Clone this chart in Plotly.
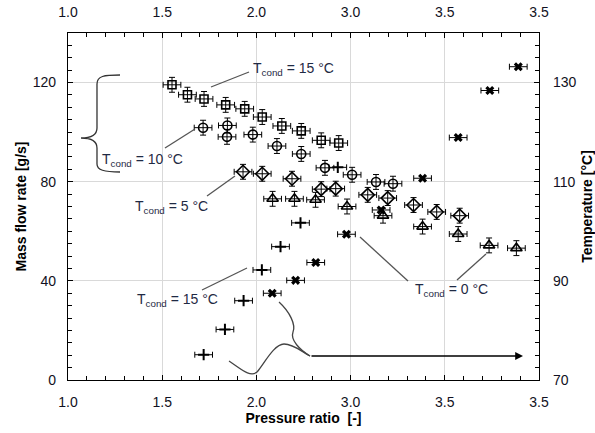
import plotly.graph_objects as go

# ---------------- data ----------------
tick_vals = [1.0, 1.5, 2.0, 2.5, 3.0, 3.5]
tick_text = ["1.0", "1.5", "2.0", "3.0", "3.5", "3.5"]

# Mass flow rate [g/s] (left axis)
pr_15 = [1.552, 1.634, 1.722, 1.837, 1.938, 2.031, 2.135, 2.238, 2.344, 2.437]
mf_15 = [119.1, 115.1, 113.4, 111.0, 109.4, 106.1, 102.5, 100.5, 96.7, 95.6]

pr_10 = [1.717, 1.846, 1.844, 1.981, 2.109, 2.238, 2.364, 2.508, 2.635, 2.725]
mf_10 = [101.8, 102.7, 98.1, 99.0, 94.4, 91.2, 85.6, 82.8, 79.9, 79.2]

pr_5 = [1.929, 2.031, 2.189, 2.344, 2.421, 2.591, 2.697, 2.834, 2.957, 3.079]
mf_5 = [84.0, 83.2, 81.2, 77.0, 77.2, 74.7, 73.4, 70.6, 67.8, 66.3]

pr_0 = [2.086, 2.202, 2.314, 2.481, 2.672, 2.882, 3.071, 3.235, 3.380]
mf_0 = [73.1, 73.1, 72.7, 70.0, 66.3, 61.9, 58.9, 54.3, 53.2]

# Temperature [°C] (right axis)
pr_t15 = [1.720, 1.833, 1.932, 2.029, 2.128, 2.234, 2.432]
t_15 = [75.1, 80.2, 86.0, 92.2, 96.9, 101.7, 112.9]

pr_t0 = [2.084, 2.208, 2.315, 2.478, 2.662, 2.882, 3.071, 3.239, 3.390]
t_0 = [87.5, 90.1, 93.7, 99.4, 104.3, 110.7, 118.9, 128.4, 133.2]

pr_err = 0.047
mf_err = 3.0

# ---------------- figure ----------------
fig = go.Figure()

def mf_trace(x, y, symbol, size):
    return go.Scatter(
        x=x, y=y, mode="markers", xaxis="x", yaxis="y", showlegend=False,
        marker=dict(symbol=symbol, size=size, color="black",
                    line=dict(color="black", width=1.6)),
        error_x=dict(type="constant", value=pr_err, color="black", thickness=1, width=3),
        error_y=dict(type="constant", value=mf_err, color="black", thickness=1, width=3),
    )

fig.add_trace(mf_trace(pr_15, mf_15, "square-open", 8))
fig.add_trace(mf_trace(pr_10, mf_10, "circle-open", 9))
fig.add_trace(mf_trace(pr_5, mf_5, "diamond-open", 10))
fig.add_trace(mf_trace(pr_0, mf_0, "triangle-up-open", 10))

fig.add_trace(go.Scatter(
    x=pr_t15, y=t_15, mode="markers", xaxis="x", yaxis="y2", showlegend=False,
    marker=dict(symbol="cross-thin", size=8, color="black", line=dict(color="black", width=2)),
    error_x=dict(type="constant", value=pr_err, color="black", thickness=1, width=3),
))
fig.add_trace(go.Scatter(
    x=pr_t0, y=t_0, mode="markers", xaxis="x", yaxis="y2", showlegend=False,
    marker=dict(symbol="x", size=8, color="black", line=dict(color="black", width=0)),
    error_x=dict(type="constant", value=pr_err, color="black", thickness=1, width=3),
))

# dummy trace for the top axis
fig.add_trace(go.Scatter(x=[1.0, 3.5], y=[None, None], xaxis="x2", yaxis="y",
                         mode="markers", showlegend=False, hoverinfo="skip"))

# ---------------- annotation helpers (pixel -> data) ----------------
L, R, T, B = 68, 539, 33, 380
def dx(px):
    return 1.0 + (px - L) / (R - L) * 2.5
def dy(py):
    return (B - py) / (B - T) * 140.0

def path(points_cmds):
    s = ""
    for cmd, pts in points_cmds:
        s += cmd + " " + " ".join(f"{dx(a):.4f},{dy(b):.4f}" for a, b in pts) + " "
    return s.strip()

line_col = "#555555"
shapes = []
# leader lines
for (x0, y0, x1, y1) in [(211, 87, 249, 72), (165, 148, 195, 129), (207, 196, 235, 176),
                         (202, 290, 247, 268), (360, 237, 408, 281), (457, 280, 486, 254)]:
    shapes.append(dict(type="line", xref="x", yref="y", x0=dx(x0), y0=dy(y0), x1=dx(x1), y1=dy(y1),
                       line=dict(color=line_col, width=1.3)))

# curly brace
brace = path([("M", [(120, 75)]), ("C", [(104, 75), (97, 76), (97, 84)]),
              ("L", [(97, 128)]), ("C", [(97, 134), (92, 138), (81, 138)]),
              ("C", [(92, 138), (97, 142), (97, 148)]),
              ("L", [(97, 164)]), ("C", [(97, 170), (104, 172), (120, 172)])])
shapes.append(dict(type="path", xref="x", yref="y", path=brace, line=dict(color="#333333", width=1.3)))

# bottom curves
c1 = path([("M", [(229, 361)]), ("C", [(240, 368), (250, 378), (257, 372)]),
           ("C", [(264, 364), (274, 344), (284, 344)]),
           ("C", [(294, 344), (302, 352), (310, 356)])])
c2 = path([("M", [(279, 302)]), ("C", [(290, 312), (296, 325), (293, 332)]),
           ("C", [(290, 340), (300, 350), (310, 356)])])
for c in (c1, c2):
    shapes.append(dict(type="path", xref="x", yref="y", path=c, line=dict(color="#444444", width=1.3)))

text_col = "#1f2a44"
font_a = dict(family="Liberation Sans, Arial", size=14, color=text_col)
annotations = [
    dict(x=dx(251), y=dy(69), text="T<sub>cond</sub> = 15 °C", xanchor="left", yanchor="middle"),
    dict(x=dx(100), y=dy(160), text="T<sub>cond</sub> = 10 °C", xanchor="left", yanchor="middle"),
    dict(x=dx(133), y=dy(207), text="T<sub>cond</sub> = 5 °C", xanchor="left", yanchor="middle"),
    dict(x=dx(135), y=dy(300), text="T<sub>cond</sub> = 15 °C", xanchor="left", yanchor="middle"),
    dict(x=dx(413), y=dy(290), text="T<sub>cond</sub> = 0 °C", xanchor="left", yanchor="middle"),
]
for a in annotations:
    a.update(xref="x", yref="y", showarrow=False, font=font_a)
# arrow
annotations.append(dict(x=dx(523), y=dy(356), ax=dx(310), ay=dy(356), xref="x", yref="y",
                        axref="x", ayref="y", text="", showarrow=True, arrowhead=2,
                        arrowsize=1.2, arrowwidth=1.3, arrowcolor="black"))

tickfont = dict(family="Liberation Sans, Arial", size=14, color="#111122")
titlefont = dict(family="Liberation Sans, Arial", size=14, color="black")

common_x = dict(range=[1.0, 3.5], tickvals=tick_vals, ticktext=tick_text, ticks="inside",
                ticklen=5, tickcolor="black", tickwidth=1, tickfont=tickfont,
                ticklabelstandoff=9, automargin=False,
                minor=dict(dtick=0.1, ticks="inside", ticklen=4, tickcolor="black", showgrid=False),
                zeroline=False)

fig.update_layout(
    width=595, height=433,
    margin=dict(l=L, r=595 - R, t=T, b=433 - B),
    paper_bgcolor="white", plot_bgcolor="white",
    font=dict(family="Liberation Sans, Arial"),
    xaxis=dict(**common_x, showgrid=True, gridcolor="#d9d9d9", gridwidth=1,
               showline=True, linecolor="black", linewidth=1.2, mirror=False,
               title=dict(text="<b>Pressure ratio  [-]</b>", font=titlefont, standoff=4)),
    xaxis2=dict(**common_x, overlaying="x", side="top", showgrid=False,
                showline=True, linecolor="black", linewidth=1.2),
    yaxis=dict(range=[0, 140], tickvals=[0, 40, 80, 120], ticks="inside", ticklen=5,
               tickcolor="black", tickfont=tickfont, showgrid=True, gridcolor="#d9d9d9",
               ticklabelstandoff=8, automargin=False,
               minor=dict(dtick=5, ticks="inside", ticklen=4, tickcolor="black", showgrid=False),
               showline=True, linecolor="black", linewidth=1.2, zeroline=False,
               title=dict(text="<b>Mass flow rate [g/s]</b>", font=titlefont, standoff=2)),
    yaxis2=dict(range=[70, 140], tickvals=[70, 90, 110, 130], ticks="inside", ticklen=5,
                tickcolor="black", tickfont=tickfont, showgrid=False, overlaying="y", side="right",
                ticklabelstandoff=10, automargin=False,
                minor=dict(dtick=2.5, ticks="inside", ticklen=4, tickcolor="black", showgrid=False),
                showline=True, linecolor="black", linewidth=1.2, zeroline=False,
                title=dict(text="<b>Temperature [°C]</b>", font=titlefont, standoff=14)),
    shapes=shapes,
    annotations=annotations,
)

fig.write_html("out.html")
